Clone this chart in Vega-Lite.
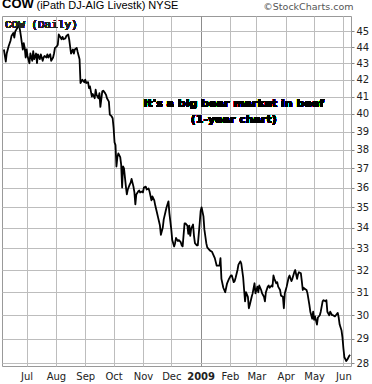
{
  "$schema": "https://vega.github.io/schema/vega-lite/v6.json",
  "width": 349,
  "height": 350,
  "autosize": {"type": "none"},
  "padding": {"left": 2, "right": 21, "top": 16, "bottom": 18},
  "background": "white",
  "title": {
    "text": "COW",
    "anchor": "start",
    "frame": "group",
    "font": "Liberation Sans",
    "fontSize": 13,
    "fontWeight": "bold",
    "color": "#000",
    "offset": -12
  },
  "data": {
    "values": [
      {"d": "2008-06-07", "c": 43.85}, {"d": "2008-06-09", "c": 43.1}, {"d": "2008-06-10", "c": 43.6}, {"d": "2008-06-12", "c": 44.05},
      {"d": "2008-06-14", "c": 44.4}, {"d": "2008-06-15", "c": 44.7}, {"d": "2008-06-17", "c": 44.9}, {"d": "2008-06-18", "c": 44.6},
      {"d": "2008-06-19", "c": 45.0}, {"d": "2008-06-21", "c": 45.2}, {"d": "2008-06-22", "c": 45.35}, {"d": "2008-06-23", "c": 45.35},
      {"d": "2008-06-24", "c": 45.1}, {"d": "2008-06-25", "c": 44.7}, {"d": "2008-06-26", "c": 44.25}, {"d": "2008-06-27", "c": 43.85},
      {"d": "2008-06-28", "c": 44.25}, {"d": "2008-06-29", "c": 43.95}, {"d": "2008-06-30", "c": 43.35}, {"d": "2008-07-01", "c": 43.85},
      {"d": "2008-07-02", "c": 43.45}, {"d": "2008-07-04", "c": 43.0}, {"d": "2008-07-05", "c": 43.6}, {"d": "2008-07-07", "c": 43.15},
      {"d": "2008-07-08", "c": 43.75}, {"d": "2008-07-09", "c": 43.25}, {"d": "2008-07-11", "c": 43.6}, {"d": "2008-07-12", "c": 43.0},
      {"d": "2008-07-13", "c": 43.55}, {"d": "2008-07-15", "c": 43.25}, {"d": "2008-07-16", "c": 43.55}, {"d": "2008-07-18", "c": 43.15},
      {"d": "2008-07-19", "c": 43.35}, {"d": "2008-07-20", "c": 43.45}, {"d": "2008-07-22", "c": 43.35}, {"d": "2008-07-23", "c": 43.55},
      {"d": "2008-07-24", "c": 43.35}, {"d": "2008-07-26", "c": 43.55}, {"d": "2008-07-27", "c": 43.15}, {"d": "2008-07-29", "c": 43.35},
      {"d": "2008-07-30", "c": 43.6}, {"d": "2008-07-31", "c": 43.95}, {"d": "2008-08-02", "c": 44.05}, {"d": "2008-08-03", "c": 44.15},
      {"d": "2008-08-04", "c": 44.8}, {"d": "2008-08-05", "c": 44.7}, {"d": "2008-08-07", "c": 44.5}, {"d": "2008-08-08", "c": 44.65},
      {"d": "2008-08-09", "c": 44.5}, {"d": "2008-08-11", "c": 44.55}, {"d": "2008-08-12", "c": 44.7}, {"d": "2008-08-14", "c": 44.8},
      {"d": "2008-08-15", "c": 44.5}, {"d": "2008-08-16", "c": 44.05}, {"d": "2008-08-17", "c": 43.6}, {"d": "2008-08-19", "c": 43.85},
      {"d": "2008-08-20", "c": 43.6}, {"d": "2008-08-21", "c": 43.85}, {"d": "2008-08-23", "c": 43.95}, {"d": "2008-08-24", "c": 43.7},
      {"d": "2008-08-26", "c": 43.25}, {"d": "2008-08-27", "c": 41.8}, {"d": "2008-08-28", "c": 41.9}, {"d": "2008-08-29", "c": 42.0},
      {"d": "2008-08-31", "c": 41.85}, {"d": "2008-09-01", "c": 42.0}, {"d": "2008-09-02", "c": 41.8}, {"d": "2008-09-04", "c": 41.85},
      {"d": "2008-09-05", "c": 41.5}, {"d": "2008-09-06", "c": 41.6}, {"d": "2008-09-08", "c": 41.0}, {"d": "2008-09-09", "c": 41.15},
      {"d": "2008-09-11", "c": 40.9}, {"d": "2008-09-12", "c": 41.4}, {"d": "2008-09-13", "c": 41.1}, {"d": "2008-09-15", "c": 40.9},
      {"d": "2008-09-16", "c": 41.2}, {"d": "2008-09-17", "c": 40.4}, {"d": "2008-09-19", "c": 41.3}, {"d": "2008-09-20", "c": 41.35},
      {"d": "2008-09-22", "c": 41.2}, {"d": "2008-09-23", "c": 41.1}, {"d": "2008-09-24", "c": 40.9}, {"d": "2008-09-26", "c": 40.7},
      {"d": "2008-09-27", "c": 39.95}, {"d": "2008-09-29", "c": 39.85}, {"d": "2008-09-30", "c": 39.75}, {"d": "2008-10-01", "c": 39.2},
      {"d": "2008-10-02", "c": 38.4}, {"d": "2008-10-03", "c": 38.25}, {"d": "2008-10-04", "c": 37.1}, {"d": "2008-10-05", "c": 37.6},
      {"d": "2008-10-06", "c": 37.8}, {"d": "2008-10-08", "c": 37.6}, {"d": "2008-10-09", "c": 37.2}, {"d": "2008-10-10", "c": 36.0},
      {"d": "2008-10-11", "c": 37.1}, {"d": "2008-10-12", "c": 37.0}, {"d": "2008-10-14", "c": 36.05}, {"d": "2008-10-15", "c": 35.65},
      {"d": "2008-10-16", "c": 35.9}, {"d": "2008-10-18", "c": 36.15}, {"d": "2008-10-19", "c": 36.25}, {"d": "2008-10-20", "c": 36.45},
      {"d": "2008-10-22", "c": 36.05}, {"d": "2008-10-23", "c": 35.75}, {"d": "2008-10-24", "c": 35.15}, {"d": "2008-10-25", "c": 35.65},
      {"d": "2008-10-27", "c": 35.8}, {"d": "2008-10-28", "c": 35.85}, {"d": "2008-10-29", "c": 35.75}, {"d": "2008-10-31", "c": 35.8},
      {"d": "2008-11-01", "c": 35.75}, {"d": "2008-11-02", "c": 36.0}, {"d": "2008-11-04", "c": 36.05}, {"d": "2008-11-05", "c": 35.9},
      {"d": "2008-11-07", "c": 35.95}, {"d": "2008-11-08", "c": 35.8}, {"d": "2008-11-10", "c": 35.35}, {"d": "2008-11-11", "c": 35.55},
      {"d": "2008-11-13", "c": 35.35}, {"d": "2008-11-14", "c": 35.1}, {"d": "2008-11-16", "c": 34.7}, {"d": "2008-11-17", "c": 34.5},
      {"d": "2008-11-19", "c": 34.1}, {"d": "2008-11-20", "c": 33.65}, {"d": "2008-11-22", "c": 34.0}, {"d": "2008-11-23", "c": 34.4},
      {"d": "2008-11-25", "c": 34.8}, {"d": "2008-11-26", "c": 35.0}, {"d": "2008-11-28", "c": 35.3}, {"d": "2008-11-29", "c": 34.7},
      {"d": "2008-12-01", "c": 33.9}, {"d": "2008-12-02", "c": 33.4}, {"d": "2008-12-04", "c": 33.1}, {"d": "2008-12-05", "c": 33.25},
      {"d": "2008-12-06", "c": 33.5}, {"d": "2008-12-08", "c": 33.35}, {"d": "2008-12-09", "c": 33.4}, {"d": "2008-12-11", "c": 33.3},
      {"d": "2008-12-12", "c": 33.15}, {"d": "2008-12-13", "c": 33.1}, {"d": "2008-12-15", "c": 34.2}, {"d": "2008-12-16", "c": 34.2},
      {"d": "2008-12-18", "c": 34.1}, {"d": "2008-12-19", "c": 33.7}, {"d": "2008-12-20", "c": 34.1}, {"d": "2008-12-21", "c": 33.6},
      {"d": "2008-12-22", "c": 33.95}, {"d": "2008-12-24", "c": 34.15}, {"d": "2008-12-25", "c": 33.6}, {"d": "2008-12-26", "c": 33.25},
      {"d": "2008-12-28", "c": 33.15}, {"d": "2008-12-29", "c": 33.15}, {"d": "2008-12-31", "c": 34.2}, {"d": "2009-01-01", "c": 34.8},
      {"d": "2009-01-02", "c": 35.0}, {"d": "2009-01-04", "c": 34.55}, {"d": "2009-01-05", "c": 33.9}, {"d": "2009-01-07", "c": 33.25},
      {"d": "2009-01-08", "c": 33.05}, {"d": "2009-01-10", "c": 32.95}, {"d": "2009-01-11", "c": 32.9}, {"d": "2009-01-13", "c": 32.85},
      {"d": "2009-01-14", "c": 32.75}, {"d": "2009-01-16", "c": 32.55}, {"d": "2009-01-18", "c": 32.2}, {"d": "2009-01-19", "c": 32.2},
      {"d": "2009-01-21", "c": 32.2}, {"d": "2009-01-22", "c": 32.55}, {"d": "2009-01-23", "c": 31.6}, {"d": "2009-01-25", "c": 31.2},
      {"d": "2009-01-27", "c": 31.0}, {"d": "2009-01-28", "c": 31.2}, {"d": "2009-01-29", "c": 31.4}, {"d": "2009-01-31", "c": 31.6},
      {"d": "2009-02-02", "c": 31.75}, {"d": "2009-02-03", "c": 31.75}, {"d": "2009-02-05", "c": 31.45}, {"d": "2009-02-06", "c": 31.5},
      {"d": "2009-02-07", "c": 31.65}, {"d": "2009-02-09", "c": 32.0}, {"d": "2009-02-10", "c": 32.25}, {"d": "2009-02-12", "c": 32.4},
      {"d": "2009-02-13", "c": 32.3}, {"d": "2009-02-15", "c": 31.65}, {"d": "2009-02-16", "c": 31.1}, {"d": "2009-02-17", "c": 30.6},
      {"d": "2009-02-18", "c": 31.0}, {"d": "2009-02-20", "c": 30.8}, {"d": "2009-02-21", "c": 30.3}, {"d": "2009-02-22", "c": 30.45},
      {"d": "2009-02-24", "c": 30.8}, {"d": "2009-02-25", "c": 30.95}, {"d": "2009-02-27", "c": 31.4}, {"d": "2009-02-28", "c": 30.95},
      {"d": "2009-03-02", "c": 31.25}, {"d": "2009-03-03", "c": 31.0}, {"d": "2009-03-04", "c": 31.3}, {"d": "2009-03-06", "c": 31.1},
      {"d": "2009-03-07", "c": 30.95}, {"d": "2009-03-09", "c": 30.8}, {"d": "2009-03-10", "c": 30.6}, {"d": "2009-03-11", "c": 31.0},
      {"d": "2009-03-13", "c": 31.25}, {"d": "2009-03-14", "c": 31.3}, {"d": "2009-03-15", "c": 31.2}, {"d": "2009-03-17", "c": 31.3},
      {"d": "2009-03-18", "c": 31.25}, {"d": "2009-03-19", "c": 31.75}, {"d": "2009-03-20", "c": 31.6}, {"d": "2009-03-22", "c": 31.4},
      {"d": "2009-03-23", "c": 31.45}, {"d": "2009-03-24", "c": 31.25}, {"d": "2009-03-26", "c": 31.1}, {"d": "2009-03-27", "c": 30.85},
      {"d": "2009-03-29", "c": 30.8}, {"d": "2009-03-30", "c": 30.3}, {"d": "2009-03-31", "c": 30.95}, {"d": "2009-04-01", "c": 31.1},
      {"d": "2009-04-02", "c": 31.25}, {"d": "2009-04-04", "c": 31.65}, {"d": "2009-04-05", "c": 31.75}, {"d": "2009-04-07", "c": 31.5},
      {"d": "2009-04-08", "c": 31.6}, {"d": "2009-04-10", "c": 31.9}, {"d": "2009-04-11", "c": 32.0}, {"d": "2009-04-13", "c": 31.6},
      {"d": "2009-04-14", "c": 31.8}, {"d": "2009-04-15", "c": 31.9}, {"d": "2009-04-17", "c": 31.85}, {"d": "2009-04-18", "c": 31.5},
      {"d": "2009-04-19", "c": 31.1}, {"d": "2009-04-20", "c": 31.2}, {"d": "2009-04-21", "c": 31.15}, {"d": "2009-04-23", "c": 31.1},
      {"d": "2009-04-24", "c": 30.95}, {"d": "2009-04-26", "c": 30.45}, {"d": "2009-04-27", "c": 30.15}, {"d": "2009-04-29", "c": 29.85},
      {"d": "2009-04-30", "c": 30.15}, {"d": "2009-05-01", "c": 29.8}, {"d": "2009-05-02", "c": 29.95}, {"d": "2009-05-04", "c": 29.6},
      {"d": "2009-05-05", "c": 29.9}, {"d": "2009-05-07", "c": 30.0}, {"d": "2009-05-08", "c": 30.15}, {"d": "2009-05-10", "c": 30.6},
      {"d": "2009-05-11", "c": 30.65}, {"d": "2009-05-13", "c": 30.6}, {"d": "2009-05-14", "c": 30.65}, {"d": "2009-05-15", "c": 30.15},
      {"d": "2009-05-17", "c": 30.0}, {"d": "2009-05-18", "c": 30.15}, {"d": "2009-05-20", "c": 30.0}, {"d": "2009-05-21", "c": 30.0},
      {"d": "2009-05-23", "c": 29.95}, {"d": "2009-05-24", "c": 30.0}, {"d": "2009-05-26", "c": 30.1}, {"d": "2009-05-27", "c": 29.9},
      {"d": "2009-05-28", "c": 29.6}, {"d": "2009-05-30", "c": 29.35}, {"d": "2009-05-31", "c": 29.05}, {"d": "2009-06-01", "c": 28.6},
      {"d": "2009-06-02", "c": 28.25}, {"d": "2009-06-04", "c": 28.1}, {"d": "2009-06-05", "c": 28.15}, {"d": "2009-06-07", "c": 28.3},
      {"d": "2009-06-08", "c": 28.35}
    ]
  },
  "layer": [
    {
      "mark": {"type": "line", "color": "#000", "strokeWidth": 1.8, "strokeJoin": "round"},
      "encoding": {
        "x": {
          "field": "d", "type": "temporal",
          "scale": {"domain": [{"year": 2008, "month": 6, "date": 5}, {"year": 2009, "month": 6, "date": 9}]},
          "axis": {
            "title": "(iPath DJ-AIG Livestk) NYSE",
            "titleX": 34,
            "titleY": -358,
            "titleAlign": "left",
            "titleAnchor": null,
            "titleBaseline": "alphabetic",
            "titleFont": "Liberation Sans",
            "titleFontSize": 11,
            "titleFontWeight": "normal",
            "titleColor": "#000",
            "grid": true,
            "tickCount": {"interval": "month", "step": 1},
            "labelExpr": "month(datum.value) == 0 ? timeFormat(datum.value, '%Y') : timeFormat(datum.value, '%b')",
            "labelFontWeight": {"condition": {"test": "month(datum.value) == 0", "value": "bold"}, "value": "normal"},
            "gridColor": {"condition": {"test": "month(datum.value) == 0", "value": "#8c8c8c"}, "value": "#bdbdbd"},
            "ticks": false,
            "domain": false,
            "labelPadding": 5,
            "labelFlush": false,
            "labelOverlap": false,
            "labelFont": "DejaVu Sans",
            "labelFontSize": 10,
            "labelColor": "#222"
          }
        },
        "y": {
          "field": "c", "type": "quantitative",
          "scale": {"type": "log", "domain": [27.9, 46], "nice": false, "zero": false},
          "axis": {
            "orient": "right",
            "grid": true,
            "values": [28, 29, 30, 31, 32, 33, 34, 35, 36, 37, 38, 39, 40, 41, 42, 43, 44, 45],
            "format": "d",
            "gridColor": "#bdbdbd",
            "domain": false,
            "tickSize": 3,
            "tickColor": "#888",
            "labelPadding": 2,
            "labelFont": "DejaVu Sans",
            "labelFontSize": 10,
            "labelColor": "#222",
            "title": "\u00a9StockCharts.com",
            "titleAngle": 0,
            "titleAlign": "right",
            "titleAnchor": null,
            "titleBaseline": "alphabetic",
            "titleX": 2,
            "titleY": -7,
            "titleFont": "DejaVu Sans",
            "titleFontSize": 9.5,
            "titleFontWeight": "normal",
            "titleColor": "#555"
          }
        }
      }
    },
    {
      "mark": {"type": "text", "align": "left", "baseline": "top", "dx": 3, "dy": 3, "font": "Liberation Mono", "fontSize": 11, "color": "#222"},
      "encoding": {
        "x": {"datum": {"year": 2008, "month": 6, "date": 5}, "type": "temporal"},
        "y": {"datum": 46, "type": "quantitative"},
        "text": {"value": "COW (Daily)"}
      }
    },
    {
      "mark": {"type": "text", "align": "center", "baseline": "alphabetic", "font": "DejaVu Sans", "fontSize": 11, "fontWeight": "bold", "color": "#000", "lineHeight": 16},
      "encoding": {
        "x": {"datum": {"year": 2009, "month": 2, "date": 5}, "type": "temporal"},
        "y": {"datum": 40.4, "type": "quantitative"},
        "text": {"value": ["It's a big bear market in beef", "(1-year chart)"]}
      }
    }
  ],
  "config": {
    "view": {"stroke": "#999", "strokeWidth": 1}
  }
}
